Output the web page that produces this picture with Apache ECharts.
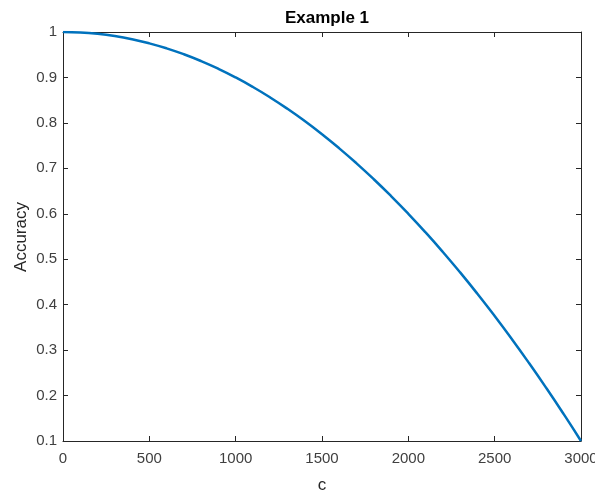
<!DOCTYPE html>
<html><head><meta charset="utf-8">
<script src="https://cdn.jsdelivr.net/npm/echarts@6/dist/echarts.min.js"></script>
<style>html,body{margin:0;padding:0;background:#fff}#c{width:595px;height:491px}</style>
</head><body><div id="c"></div>
<script>
const xValues = [0,100,200,300,400,500,600,700,800,900,1000,1100,1200,1300,1400,1500,1600,1700,1800,1900,2000,2100,2200,2300,2400,2500,2600,2700,2800,2900,3000];
const accuracy = [1.000,0.999,0.996,0.991,0.984,0.975,0.964,0.951,0.936,0.919,0.900,0.879,0.856,0.831,0.804,0.775,0.744,0.711,0.676,0.639,0.600,0.559,0.516,0.471,0.424,0.375,0.324,0.271,0.216,0.159,0.100];
const xTicks = [0,500,1000,1500,2000,2500,3000];
const yTicks = [0.1,0.2,0.3,0.4,0.5,0.6,0.7,0.8,0.9,1];
const yName = 'Accuracy';

const chart = echarts.init(document.getElementById('c'), null, {renderer:'canvas'});
const axisCol = '#262626';
const font = 'Liberation Sans, Arial, sans-serif';
const common = {
  axisLine:{show:true,onZero:false,lineStyle:{color:axisCol,width:1}},
  axisTick:{show:true,inside:true,length:5,lineStyle:{color:axisCol}},
  splitLine:{show:false}
};
chart.setOption({
  animation:false,
  title:{text:'Example 1',left:322,textAlign:'center',top:5,textStyle:{fontFamily:font,fontSize:17,fontWeight:'bold',color:'#000'}},
  grid:{left:63,right:14,top:32,bottom:50,containLabel:false,outerBoundsMode:'none'},
  graphic:[{type:'text',x:21,y:237,rotation:Math.PI/2,
    style:{text:yName,align:'center',verticalAlign:'middle',fontFamily:font,fontSize:17,fill:axisCol}}],
  xAxis:[
    Object.assign({type:'value',min:0,max:3000,interval:500,position:'bottom',
      name:'c',nameLocation:'middle',nameGap:36,nameTextStyle:{fontFamily:font,fontSize:17,color:axisCol},
      axisLabel:{fontFamily:font,fontSize:15,color:'#404040',margin:10,formatter:v=>xTicks.includes(v)?String(v):''}},common),
    Object.assign({type:'value',min:0,max:3000,interval:500,position:'top',axisLabel:{show:false}},common)
  ],
  yAxis:[
    Object.assign({type:'value',min:0.1,max:1,interval:0.1,position:'left',
      axisLabel:{fontFamily:font,fontSize:15,color:'#404040',margin:6,formatter:v=>{const r=Math.round(v*10)/10;return yTicks.includes(r)?String(r):'';}}},common),
    Object.assign({type:'value',min:0.1,max:1,interval:0.1,position:'right',axisLabel:{show:false}},common)
  ],
  series:[{type:'line',xAxisIndex:0,yAxisIndex:0,data:xValues.map((x,i)=>[x,accuracy[i]]),
    showSymbol:false,smooth:true,lineStyle:{color:'#0072BD',width:2.5}}]
});
</script></body></html>
